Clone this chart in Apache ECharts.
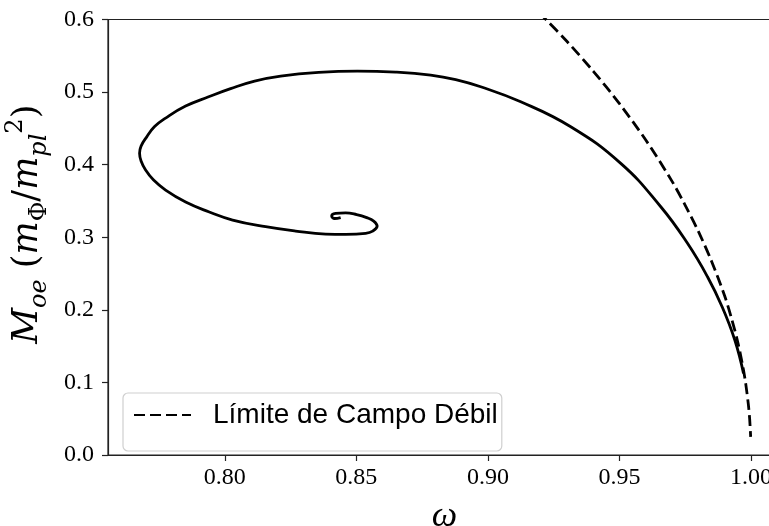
<!DOCTYPE html>
<html><head><meta charset="utf-8">
<script src="https://cdn.jsdelivr.net/npm/echarts@6/dist/echarts.min.js"></script>
<style>html,body{margin:0;padding:0;background:#fff}#c{width:769px;height:526px}</style>
</head><body><div id="c"></div>
<script>
// Solid curve (spiral)
const spiralOmega = [0.99715,0.99384,0.98901,0.98346,0.97586,0.9657,0.95049,0.93148,0.91247,0.89726,0.88776,0.87825,0.86494,0.85038,0.83567,0.82122,0.81133,0.8022,0.79384,0.7851,0.77749,0.77331,0.77027,0.76817,0.7676,0.76817,0.76989,0.77293,0.77749,0.7851,0.79384,0.80297,0.81551,0.82692,0.83833,0.84593,0.85354,0.8562,0.85791,0.85658,0.85392,0.85011,0.84593,0.84213,0.84061,0.84175,0.84403];
const spiralMass  = [0.1125,0.1584,0.2043,0.2456,0.2916,0.3420,0.4018,0.4522,0.4866,0.5073,0.5172,0.5234,0.5275,0.5289,0.5271,0.5220,0.5152,0.5048,0.4935,0.4807,0.4642,0.4525,0.4380,0.4256,0.4156,0.4050,0.3926,0.3788,0.3650,0.3485,0.3351,0.3237,0.3145,0.3085,0.3044,0.3040,0.3054,0.3085,0.3154,0.3223,0.3271,0.3313,0.3337,0.3329,0.3292,0.3258,0.3271];
// Dashed curve (weak-field limit)
const weakOmega = [0.915,0.9215,0.93,0.94,0.95,0.96,0.97,0.975,0.98,0.985,0.99,0.9925,0.995,0.997,0.998,0.999,0.9995,0.99987];
const weakMass  = [0.6253,0.602,0.570,0.529,0.484,0.434,0.377,0.344,0.308,0.267,0.219,0.1895,0.155,0.120,0.098,0.0693,0.049,0.025];
const xTicks = [0.80,0.85,0.90,0.95,1.00];
const yTicks = [0.0,0.1,0.2,0.3,0.4,0.5,0.6];
const legendLabel = 'Límite de Campo Débil';

const spiralData = spiralOmega.map((w,i)=>[w, spiralMass[i]]);
const weakData = weakOmega.map((w,i)=>[w, weakMass[i]]);

const axisColor = '#222';
const serif = '"Liberation Serif", "DejaVu Serif", serif';
const mathSerif = '"DejaVu Serif", "Liberation Serif", serif';
const chart = echarts.init(document.getElementById('c'), null, {renderer:'canvas'});
chart.setOption({
  animation:false,
  backgroundColor:'#fff',
  grid:{left:108, top:19.5, width:673, height:435.5, show:true, borderColor:axisColor, borderWidth:1.2,
        backgroundColor:'transparent', containLabel:false, outerBoundsMode:'none'},
  legend:{
    data:[legendLabel], left:123, top:393, orient:'horizontal',
    padding:[8,4,22,10], borderColor:'#cfcfcf', borderWidth:1.2, borderRadius:5, backgroundColor:'#fff',
    itemWidth:57, itemHeight:14, itemStyle:{opacity:0},
    textStyle:{fontFamily:'"Liberation Sans", Arial, sans-serif', fontSize:28, color:'#000', padding:[0,0,0,17]}
  },
  xAxis:{
    type:'value', min:0.7556, max:1.0114,
    axisLine:{show:true, lineStyle:{color:axisColor, width:1.2}},
    axisTick:{show:true, length:6, lineStyle:{color:axisColor, width:1.2}, customValues:xTicks},
    axisLabel:{show:true, customValues:xTicks, formatter:v=>Number(v).toFixed(2), margin:11, fontFamily:serif, fontSize:24, color:'#000'},
    splitLine:{show:false},
    name:'ω', nameLocation:'middle', nameGap:44, nameMoveOverlap:false,
    nameTextStyle:{fontFamily:serif, fontStyle:'italic', fontSize:36, color:'#000'}
  },
  yAxis:{
    type:'value', min:0, max:0.6, interval:0.1,
    axisLine:{show:true, lineStyle:{color:axisColor, width:1.2}},
    axisTick:{show:true, length:6, lineStyle:{color:axisColor, width:1.2}},
    axisLabel:{formatter:v=>Number(v).toFixed(1), margin:14, fontFamily:serif, fontSize:24, color:'#000'},
    splitLine:{show:false},
    name:'{i|M}{s|oe}{r| (}{i|m}{u|Φ}{r|/}{i|m}{s|pl}{p|2}{r|)}',
    nameLocation:'middle', nameRotate:90, nameGap:56, nameMoveOverlap:false,
    nameTextStyle:{
      color:'#000', padding:[0,0,0,26],
      rich:{
        i:{fontFamily:mathSerif, fontStyle:'italic', fontSize:35, lineHeight:48, color:'#000'},
        r:{fontFamily:mathSerif, fontStyle:'normal', fontSize:35, lineHeight:48, color:'#000'},
        s:{fontFamily:mathSerif, fontStyle:'italic', fontSize:24, lineHeight:24, verticalAlign:'bottom', color:'#000'},
        u:{fontFamily:mathSerif, fontStyle:'normal', fontSize:24, lineHeight:24, verticalAlign:'bottom', color:'#000'},
        p:{fontFamily:mathSerif, fontStyle:'normal', fontSize:24, lineHeight:24, verticalAlign:'top', color:'#000'}
      }
    }
  },
  series:[
    {type:'line', name:'spiral', data:spiralData, showSymbol:false, symbol:'none', smooth:0.45,
     lineStyle:{color:'#000', width:2.8}, z:2},
    {type:'line', name:legendLabel, data:weakData, showSymbol:false, symbol:'none', smooth:0.3,
     lineStyle:{color:'#000', width:2.8, type:[11,5]}, itemStyle:{color:'#000'}, z:3}
  ]
});
</script></body></html>
